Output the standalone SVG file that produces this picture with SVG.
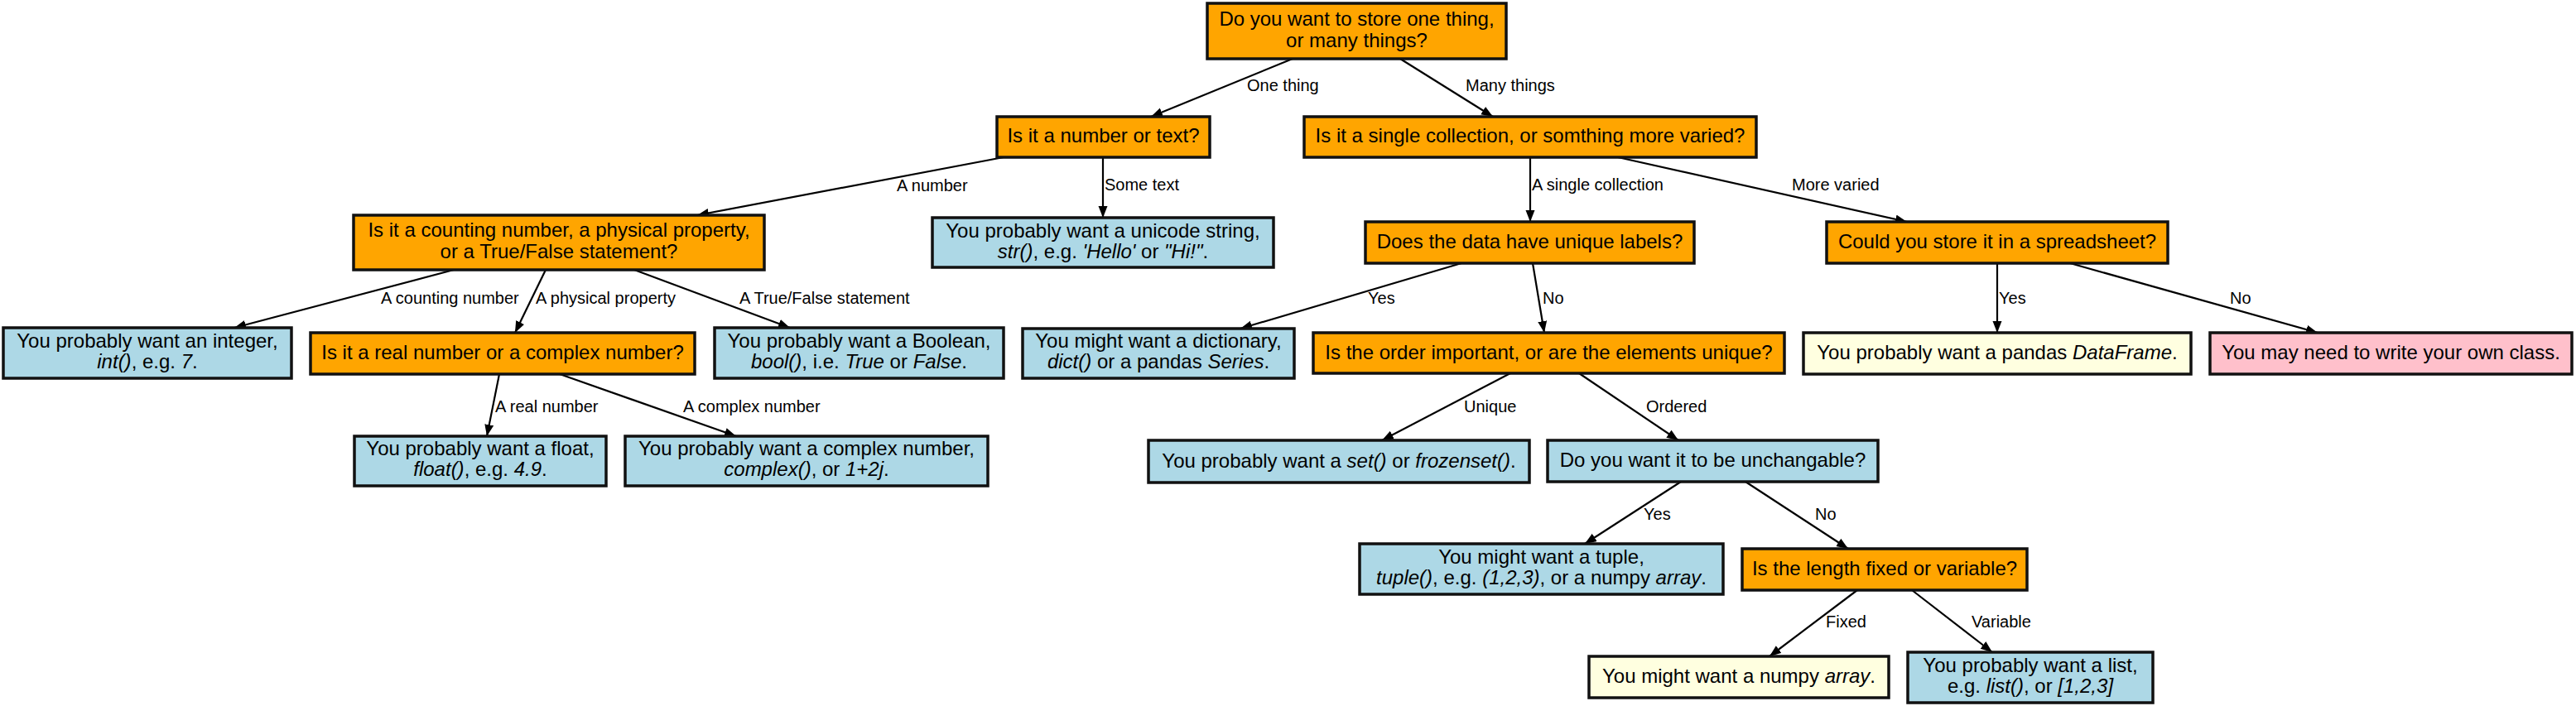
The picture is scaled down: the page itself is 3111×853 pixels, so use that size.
<svg xmlns="http://www.w3.org/2000/svg" width="3111" height="853" viewBox="0 0 3111 853">
<defs>
<marker id="ah" markerUnits="userSpaceOnUse" markerWidth="16" markerHeight="13" refX="14" refY="5.5" orient="auto">
<path d="M0,0 L14,5.5 L0,11 z" fill="#000"/>
</marker>
<style>
.n rect{stroke:#111;stroke-width:3.5}
.q rect{fill:#FFA500}
.b rect{fill:#ADD8E6}
.y rect{fill:#FFFFE0}
.p rect{fill:#FFC0CB}
.n text{font-family:"Liberation Sans",Arial,sans-serif;font-size:24px;text-anchor:middle;fill:#000}
.i{font-style:italic}
#edges line{stroke:#000;stroke-width:2.2;marker-end:url(#ah)}
#edges text{font-family:"Liberation Sans",Arial,sans-serif;font-size:20px;fill:#000}
</style>
</defs>
<rect width="3111" height="853" fill="#fff"/>
<g id="edges">
<line x1="1561" y1="71" x2="1390" y2="141"/>
<text x="1506" y="110">One thing</text>
<line x1="1691" y1="71" x2="1803" y2="141"/>
<text x="1770" y="110">Many things</text>
<line x1="1212" y1="190" x2="842" y2="260"/>
<text x="1083" y="231">A number</text>
<line x1="1332" y1="190" x2="1332" y2="263"/>
<text x="1334" y="230">Some text</text>
<line x1="1848" y1="190" x2="1848" y2="268"/>
<text x="1850" y="230">A single collection</text>
<line x1="1954" y1="190" x2="2303" y2="268"/>
<text x="2164" y="230">More varied</text>
<line x1="548" y1="326" x2="283" y2="396"/>
<text x="460" y="367">A counting number</text>
<line x1="659" y1="326" x2="622" y2="402"/>
<text x="647" y="367">A physical property</text>
<line x1="766" y1="326" x2="954" y2="396"/>
<text x="893" y="367">A True/False statement</text>
<line x1="1765" y1="318" x2="1498" y2="397"/>
<text x="1652" y="367">Yes</text>
<line x1="1851" y1="318" x2="1865" y2="402"/>
<text x="1863" y="367">No</text>
<line x1="2412" y1="318" x2="2412" y2="402"/>
<text x="2414" y="367">Yes</text>
<line x1="2500" y1="318" x2="2799" y2="402"/>
<text x="2693" y="367">No</text>
<line x1="603" y1="452" x2="588" y2="527"/>
<text x="598" y="498">A real number</text>
<line x1="676" y1="452" x2="889" y2="527"/>
<text x="825" y="498">A complex number</text>
<line x1="1824" y1="451" x2="1669" y2="532"/>
<text x="1768" y="498">Unique</text>
<line x1="1907" y1="451" x2="2027" y2="532"/>
<text x="1988" y="498">Ordered</text>
<line x1="2030" y1="582" x2="1914" y2="657"/>
<text x="1985" y="628">Yes</text>
<line x1="2108" y1="582" x2="2232" y2="663"/>
<text x="2192" y="628">No</text>
<line x1="2243" y1="713" x2="2137" y2="793"/>
<text x="2205" y="758">Fixed</text>
<line x1="2309" y1="713" x2="2406" y2="788"/>
<text x="2381" y="758">Variable</text>
</g>
<g id="root" class="n q"><rect x="1458" y="4" width="361" height="67"/><text x="1638.5" y="31">Do you want to store one thing,</text><text x="1638.5" y="57">or many things?</text></g>
<g id="numtext" class="n q"><rect x="1204" y="141" width="257" height="49"/><text x="1332.5" y="172">Is it a number or text?</text></g>
<g id="collection" class="n q"><rect x="1575" y="141" width="546" height="49"/><text x="1848" y="172">Is it a single collection, or somthing more varied?</text></g>
<g id="counting" class="n q"><rect x="427" y="260" width="496" height="66"/><text x="675" y="286">Is it a counting number, a physical property,</text><text x="675" y="312">or a True/False statement?</text></g>
<g id="str" class="n b"><rect x="1126" y="263" width="412" height="60"/><text x="1332" y="287">You probably want a unicode string,</text><text x="1332" y="312"><tspan class="i">str()</tspan>, e.g. <tspan class="i">'Hello'</tspan> or <tspan class="i">"Hi!"</tspan>.</text></g>
<g id="labels" class="n q"><rect x="1649" y="268" width="397" height="50"/><text x="1847.5" y="300">Does the data have unique labels?</text></g>
<g id="spreadsheet" class="n q"><rect x="2206" y="268" width="412" height="50"/><text x="2412" y="300">Could you store it in a spreadsheet?</text></g>
<g id="int" class="n b"><rect x="4" y="396" width="348" height="61"/><text x="178" y="420">You probably want an integer,</text><text x="178" y="445"><tspan class="i">int()</tspan>, e.g. <tspan class="i">7</tspan>.</text></g>
<g id="real" class="n q"><rect x="375" y="402" width="464" height="50"/><text x="607" y="434">Is it a real number or a complex number?</text></g>
<g id="bool" class="n b"><rect x="863" y="396" width="349" height="61"/><text x="1037.5" y="420">You probably want a Boolean,</text><text x="1037.5" y="445"><tspan class="i">bool()</tspan>, i.e. <tspan class="i">True</tspan> or <tspan class="i">False</tspan>.</text></g>
<g id="dict" class="n b"><rect x="1235" y="397" width="328" height="60"/><text x="1399" y="420">You might want a dictionary,</text><text x="1399" y="445"><tspan class="i">dict()</tspan> or a pandas <tspan class="i">Series</tspan>.</text></g>
<g id="order" class="n q"><rect x="1586" y="402" width="569" height="49"/><text x="1870.5" y="434">Is the order important, or are the elements unique?</text></g>
<g id="dataframe" class="n y"><rect x="2178" y="402" width="468" height="50"/><text x="2412" y="434">You probably want a pandas <tspan class="i">DataFrame</tspan>.</text></g>
<g id="class" class="n p"><rect x="2669" y="402" width="437" height="50"/><text x="2887.5" y="434">You may need to write your own class.</text></g>
<g id="float" class="n b"><rect x="428" y="527" width="304" height="60"/><text x="580" y="550">You probably want a float,</text><text x="580" y="575"><tspan class="i">float()</tspan>, e.g. <tspan class="i">4.9</tspan>.</text></g>
<g id="complex" class="n b"><rect x="755" y="527" width="438" height="60"/><text x="974" y="550">You probably want a complex number,</text><text x="974" y="575"><tspan class="i">complex()</tspan>, or <tspan class="i">1+2j</tspan>.</text></g>
<g id="set" class="n b"><rect x="1387" y="532" width="460" height="51"/><text x="1617" y="565">You probably want a <tspan class="i">set()</tspan> or <tspan class="i">frozenset()</tspan>.</text></g>
<g id="unchangable" class="n b"><rect x="1869" y="532" width="399" height="50"/><text x="2068.5" y="564">Do you want it to be unchangable?</text></g>
<g id="tuple" class="n b"><rect x="1642" y="657" width="439" height="61"/><text x="1861.5" y="681">You might want a tuple,</text><text x="1861.5" y="706"><tspan class="i">tuple()</tspan>, e.g. <tspan class="i">(1,2,3)</tspan>, or a numpy <tspan class="i">array</tspan>.</text></g>
<g id="length" class="n q"><rect x="2104" y="663" width="344" height="50"/><text x="2276" y="695">Is the length fixed or variable?</text></g>
<g id="numpy" class="n y"><rect x="1919" y="793" width="362" height="50"/><text x="2100" y="825">You might want a numpy <tspan class="i">array</tspan>.</text></g>
<g id="list" class="n b"><rect x="2304" y="788" width="296" height="61"/><text x="2452" y="812">You probably want a list,</text><text x="2452" y="837">e.g. <tspan class="i">list()</tspan>, or <tspan class="i">[1,2,3]</tspan></text></g>
</svg>
